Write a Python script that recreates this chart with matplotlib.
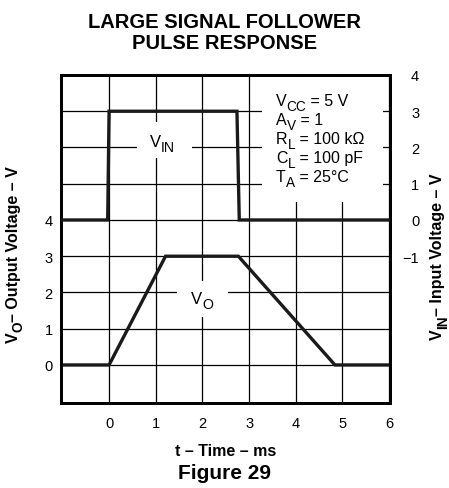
import matplotlib
matplotlib.use("Agg")
import matplotlib.pyplot as plt
from matplotlib.transforms import offset_copy

plt.rcParams['font.family'] = ['Liberation Sans', 'DejaVu Sans']

# input pulse (right axis), output (left axis)
t_in = [-1.03, -0.03, 0.0, 2.74, 2.79, 6.02]
v_in = [0, 0, 3, 3, 0, 0]
t_out = [-1.03, 0.0, 1.21, 2.77, 4.84, 6.02]
v_out = [0, 0, 3, 3, 0, 0]

x_ticks = [0, 1, 2, 3, 4, 5, 6]
vo_ticks = [0, 1, 2, 3, 4]
vin_ticks = [-1, 0, 1, 2, 3, 4]
conditions = [[("V", 0), ("CC", 1), (" = 5 V", 0)],
              [("A", 0), ("V", 1), (" = 1", 0)],
              [("R", 0), ("L", 1), (" = 100 kΩ", 0)],
              [("C", 0), ("L", 1), (" = 100 pF", 0)],
              [("T", 0), ("A", 1), (" = 25°C", 0)]]

fig = plt.figure(figsize=(4.49, 4.89), dpi=100)
renderer = fig.canvas.get_renderer()


def sub_text(x, y, parts, size, transform, rotation=0, **kw):
    """write text with big, lowered subscripts, piece by piece"""
    adv = 0.0
    for s, is_sub in parts:
        fs = size * 0.85 if is_sub else size
        drop = size * 0.3 if is_sub else 0.0
        if rotation == 90:
            tr = offset_copy(transform, fig=fig, x=drop, y=adv, units='points')
        else:
            tr = offset_copy(transform, fig=fig, x=adv, y=-drop, units='points')
        t = fig.text(x, y, s, transform=tr, fontsize=fs, rotation=rotation,
                     rotation_mode='anchor', ha='left', va='baseline', **kw)
        bb = t.get_window_extent(renderer)
        adv += (bb.height if rotation == 90 else bb.width) * 72 / fig.dpi


ax = fig.add_axes([0.1359, 0.1738, 0.7327, 0.6708])
ax.set_xlim(-1.03, 6.02)
ax.set_ylim(-1.05, 8.0)
ax.set_xticks(x_ticks)
ax.set_yticks(vo_ticks)
ax.set_yticks([5, 6, 7], minor=True)
ax.tick_params(which='both', length=0, labelsize=10.5, pad=6)
ax.tick_params(axis='x', pad=9.5)
ax.grid(True, which='both', color='black', linewidth=0.9)
ax.set_axisbelow(True)
for s in ax.spines.values():
    s.set_linewidth(2)

ax2 = ax.twinx()
ax2.set_ylim(-5.05, 4.0)
ax2.set_yticks(vin_ticks)
ax2.tick_params(length=0, labelsize=10.5, pad=21)
for lab in ax2.get_yticklabels():
    lab.set_horizontalalignment('right')
for s in ax2.spines.values():
    s.set_linewidth(2)

ax.plot(t_out, v_out, color='#1a1a1a', linewidth=2.4, solid_joinstyle='miter', zorder=3)
ax2.plot(t_in, v_in, color='#1a1a1a', linewidth=2.4, solid_joinstyle='miter', zorder=3)

# white patches that break the grid behind the labels
for (x0, y0, w, h) in [(137, 123, 55, 36), (177, 282, 51, 36), (262, 78, 121, 125)]:
    fig.patches.append(plt.Rectangle((x0 / 449, 1 - (y0 + h) / 489), w / 449, h / 489,
                                     transform=fig.transFigure, facecolor='white',
                                     edgecolor='none', zorder=2))

sub_text(150 / 449, 1 - 147 / 489, [("V", 0), ("IN", 1)], 12, fig.transFigure, zorder=5)
sub_text(191 / 449, 1 - 304 / 489, [("V", 0), ("O", 1)], 12, fig.transFigure, zorder=5)

for i, line in enumerate(conditions):
    sub_text(276 / 449, 1 - (106 + 19 * i) / 489, line, 11.5, fig.transFigure, zorder=5)

ax.set_xlabel("t – Time – ms", fontsize=11.5, fontweight='bold', labelpad=9.5)
sub_text(18 / 449, 1 - 343 / 489, [("V", 0), ("O", 1), ("– Output Voltage – V", 0)],
         11.5, fig.transFigure, rotation=90, fontweight='bold')
sub_text(442 / 449, 1 - 340 / 489, [("V", 0), ("IN", 1), ("– Input Voltage – V", 0)],
         11.5, fig.transFigure, rotation=90, fontweight='bold')

fig.text(0.5, 1 - 33 / 489, "LARGE SIGNAL FOLLOWER\nPULSE RESPONSE", fontsize=14.5,
         fontweight='bold', ha='center', va='center', linespacing=1.15)
fig.text(0.5, 1 - 474 / 489, "Figure 29", fontsize=15, fontweight='bold',
         ha='center', va='center')

fig.savefig("out.png", dpi=100)
